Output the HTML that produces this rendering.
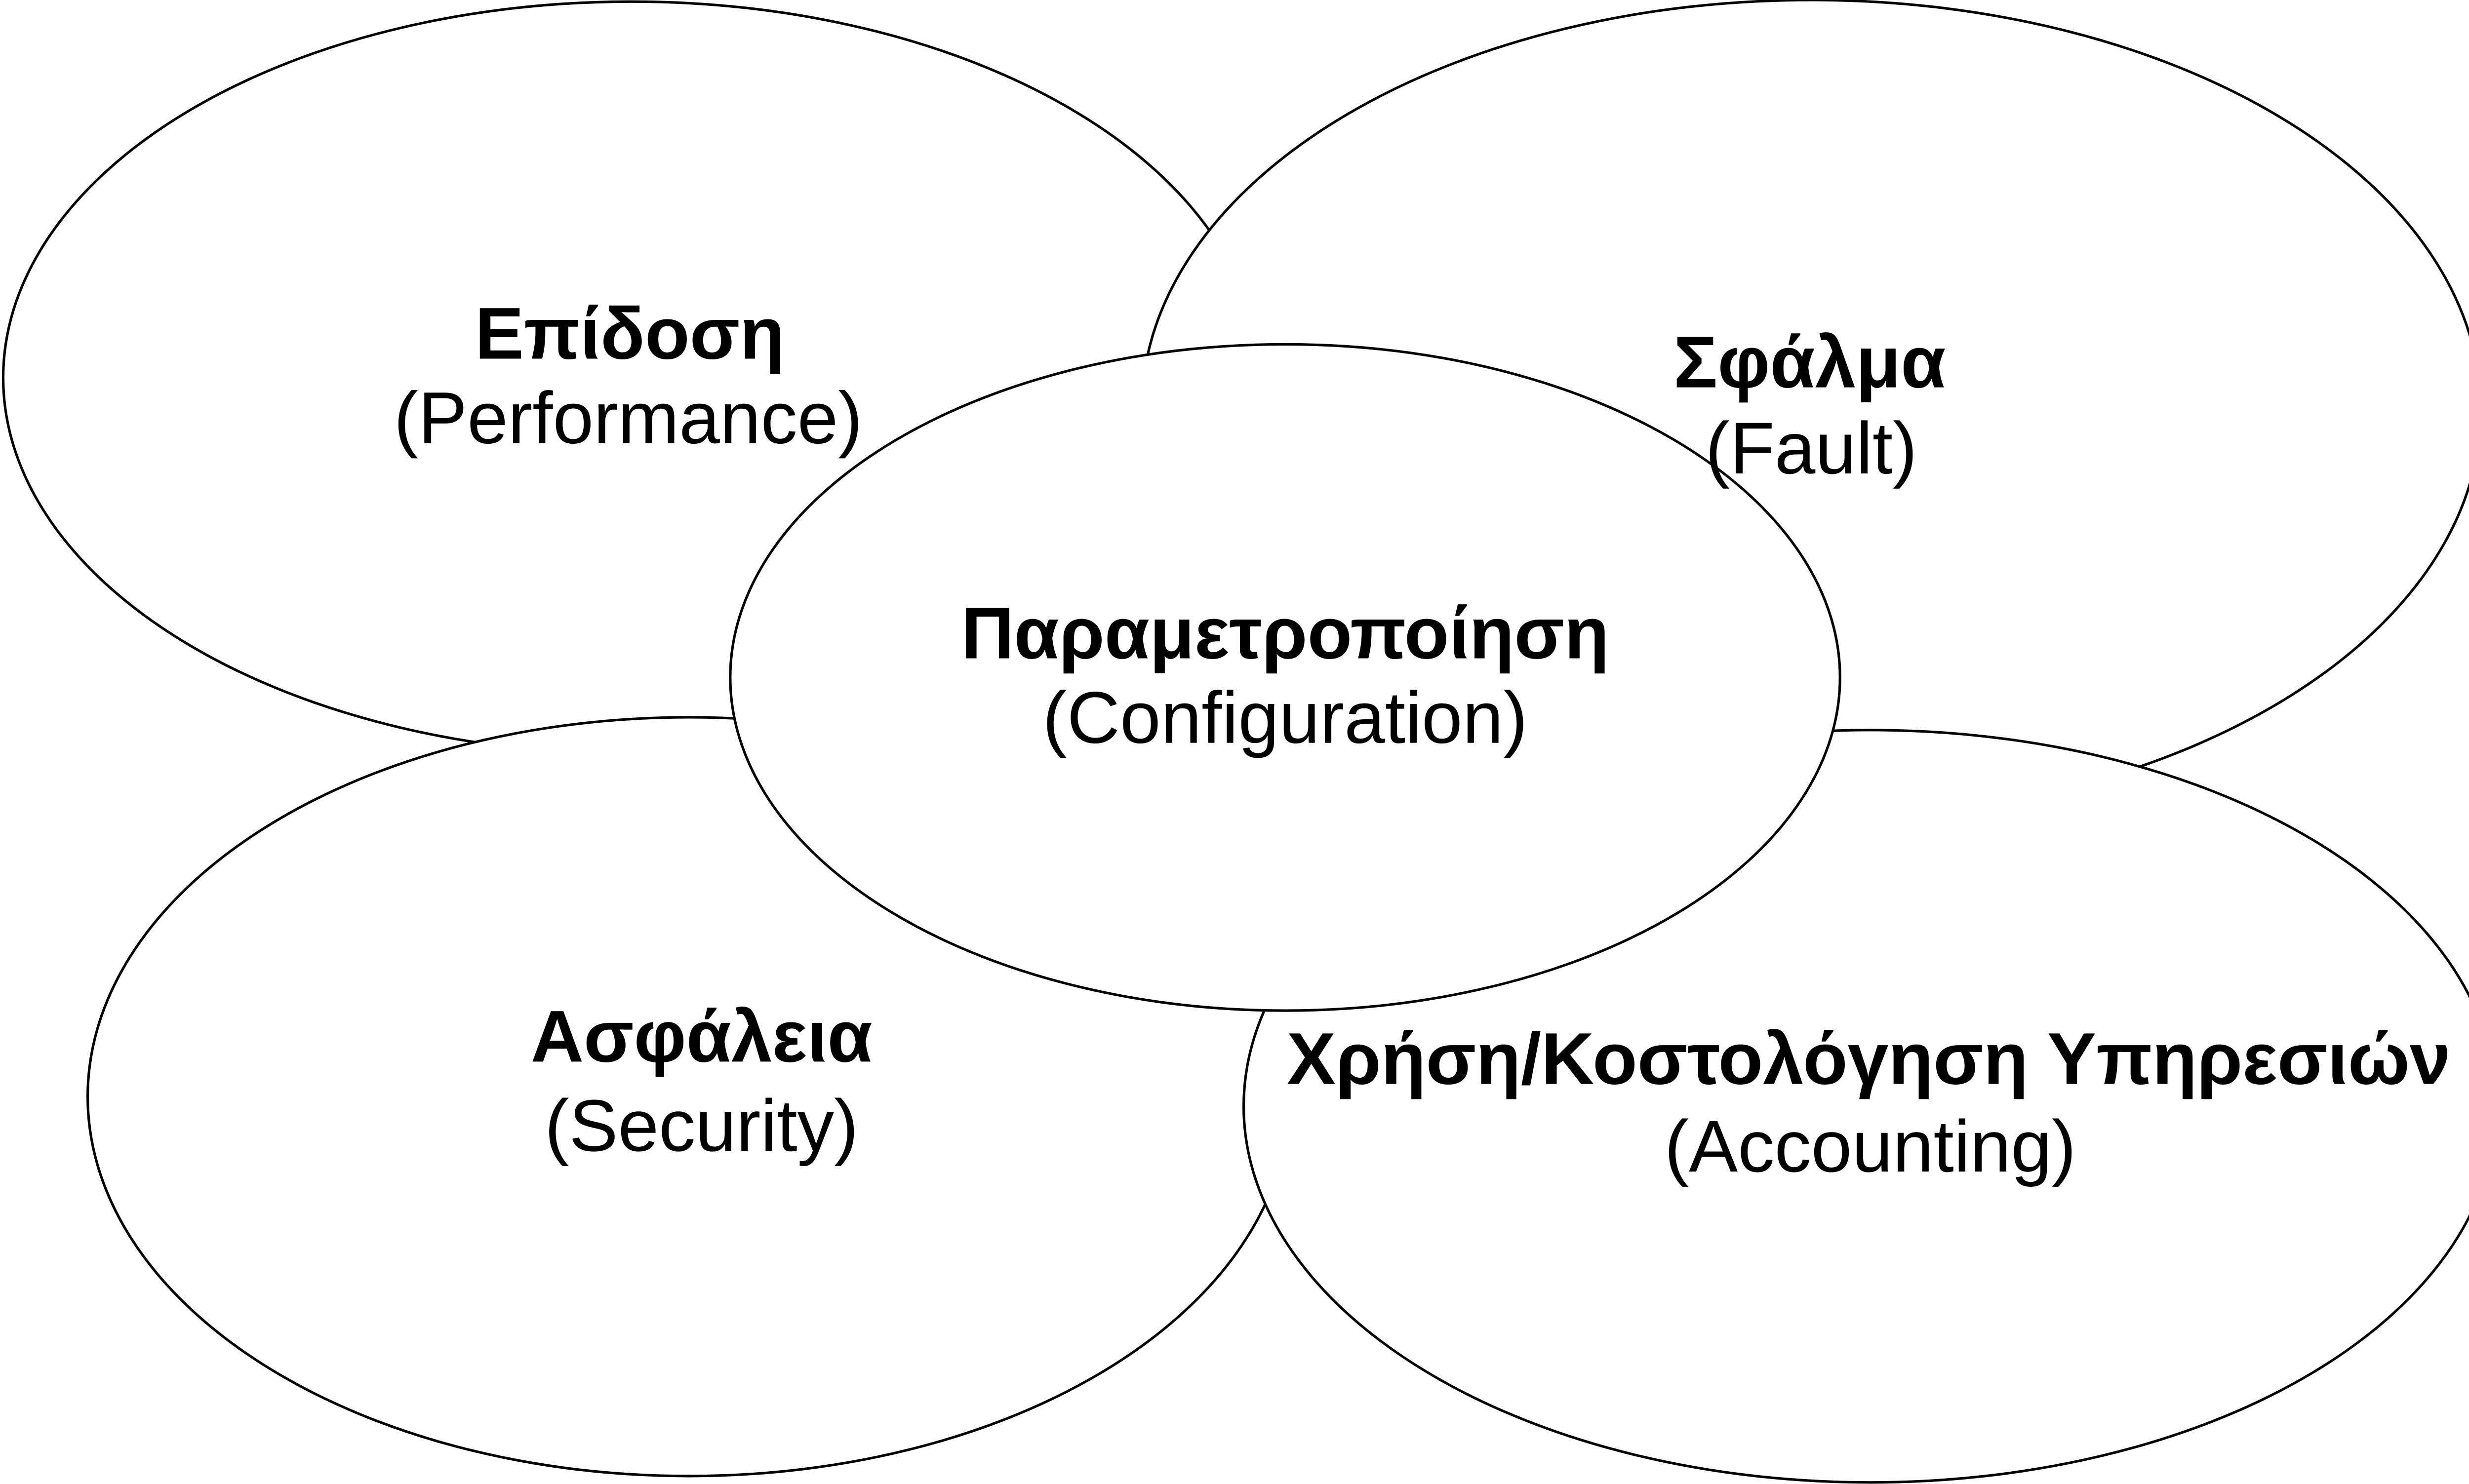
<!DOCTYPE html>
<html><head><meta charset="utf-8"><style>
html,body{margin:0;padding:0;background:#fff;}
svg{display:block;}
text{font-family:"Liberation Sans",Arial,sans-serif;font-size:46px;text-anchor:middle;fill:#000;}
.b{font-weight:bold;}
</style></head><body>
<svg width="5063" height="3006" viewBox="0 0 1568 931" preserveAspectRatio="none" xmlns="http://www.w3.org/2000/svg">
<g fill="#fff" stroke="#000" stroke-width="1.6">
<ellipse cx="396" cy="237" rx="394" ry="236"/>
<ellipse cx="1136" cy="257" rx="420" ry="257"/>
<ellipse cx="432" cy="688" rx="377" ry="238"/>
<ellipse cx="1173" cy="694" rx="393" ry="236"/>
<ellipse cx="806" cy="425" rx="348" ry="209"/>
</g>
<text class="b" x="395" y="225">Επίδοση</text>
<text x="394" y="278">(Performance)</text>
<text class="b" x="1135" y="243">Σφάλμα</text>
<text x="1136" y="297">(Fault)</text>
<text class="b" x="806" y="413">Παραμετροποίηση</text>
<text x="806" y="466">(Configuration)</text>
<text class="b" x="440" y="666">Ασφάλεια</text>
<text x="440" y="722">(Security)</text>
<text class="b" x="1172" y="680">Χρήση/Κοστολόγηση Υπηρεσιών</text>
<text x="1173" y="735">(Accounting)</text>
</svg>
</body></html>
